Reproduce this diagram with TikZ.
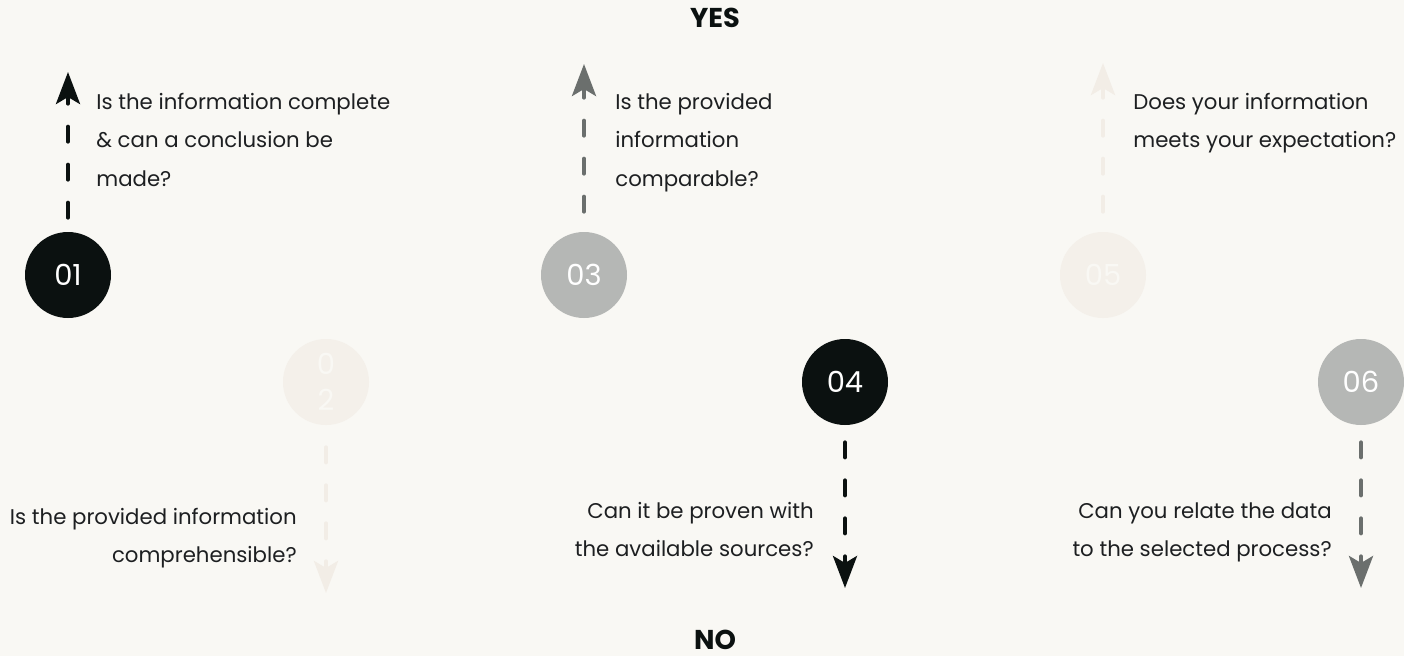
\documentclass[tikz,border=0pt]{standalone}
\usepackage{fontspec}
\setmainfont{Poppins}
\usetikzlibrary{arrows.meta}
\definecolor{bgcol}{HTML}{F9F8F4}
\definecolor{inkcol}{HTML}{0B1110}
\definecolor{greycol}{HTML}{B5B7B5}
\definecolor{greyline}{HTML}{6B6F6D}
\definecolor{palecol}{HTML}{F4F0EA}
\definecolor{paleline}{HTML}{F2EDE6}
\definecolor{textcol}{HTML}{1D1F21}
\tikzset{
	stepdot/.style={circle, minimum size=1.72cm, inner sep=0pt, align=center, font=\fontsize{16.5}{20.4}\selectfont},
	flow/.style={line width=0.08cm, line cap=round, dash pattern=on 0.3cm off 0.46cm, -{Stealth[length=0.64cm, width=0.48cm, inset=0.14cm]}},
	question/.style={inner sep=0pt, text=textcol, font=\fontsize{12.1}{21.8}\selectfont},
	answer/.style={inner sep=0pt, text=inkcol, font=\bfseries\fontsize{15.5}{18}\selectfont},
}

\begin{document}
\begin{tikzpicture}
			%%%%% START %%%%%
			
			\useasboundingbox (0, 0) rectangle (28.08, 13.12);
			\fill[bgcol] (0, 0) rectangle (28.08, 13.12);
			
			\node[answer] (yes) at (14.30, 12.76) {YES};
			\node[answer] (no) at (14.30, 0.32) {NO};
			
			\node[stepdot, fill=inkcol, text=white] (c1) at (1.36, 7.62) {01};
			\node[stepdot, fill=palecol, text=bgcol] (c2) at (6.52, 5.48) {0\\2};
			\node[stepdot, fill=greycol, text=white] (c3) at (11.68, 7.62) {03};
			\node[stepdot, fill=inkcol, text=white] (c4) at (16.90, 5.48) {04};
			\node[stepdot, fill=palecol, text=bgcol] (c5) at (22.06, 7.62) {05};
			\node[stepdot, fill=greycol, text=white] (c6) at (27.22, 5.48) {06};
			
			\coordinate (t1) at (1.36, 11.68);
			\coordinate (t2) at (6.52, 1.26);
			\coordinate (t3) at (11.68, 11.84);
			\coordinate (t4) at (16.90, 1.36);
			\coordinate (t5) at (22.06, 11.86);
			\coordinate (t6) at (27.22, 1.36);
			
			\draw[flow, color=inkcol, shorten <=0.28cm] (c1) -- (t1);
			\draw[flow, color=greyline, shorten <=0.4cm] (c3) -- (t3);
			\draw[flow, color=paleline, shorten <=0.4cm] (c5) -- (t5);
			
			\draw[flow, color=paleline, shorten <=0.44cm] (c2) -- (t2);
			\draw[flow, color=inkcol, shorten <=0.34cm] (c4) -- (t4);
			\draw[flow, color=greyline, shorten <=0.34cm] (c6) -- (t6);
			
			\node[question, anchor=north west, align=left] (q1) at (1.92, 11.26) {Is the information complete\\\& can a conclusion be\\made?};
			\node[question, anchor=north west, align=left] (q3) at (12.30, 11.26) {Is the provided\\information\\comparable?};
			\node[question, anchor=north west, align=left] (q5) at (22.66, 11.26) {Does your information\\meets your expectation?};
			
			\node[question, anchor=north east, align=right] (q2) at (5.94, 2.96) {Is the provided information\\comprehensible?};
			\node[question, anchor=north east, align=right] (q4) at (16.28, 3.08) {Can it be proven with\\the available sources?};
			\node[question, anchor=north east, align=right] (q6) at (26.64, 3.08) {Can you relate the data\\to the selected process?};
			
			%%%%% END %%%%%
\end{tikzpicture}
\end{document}
